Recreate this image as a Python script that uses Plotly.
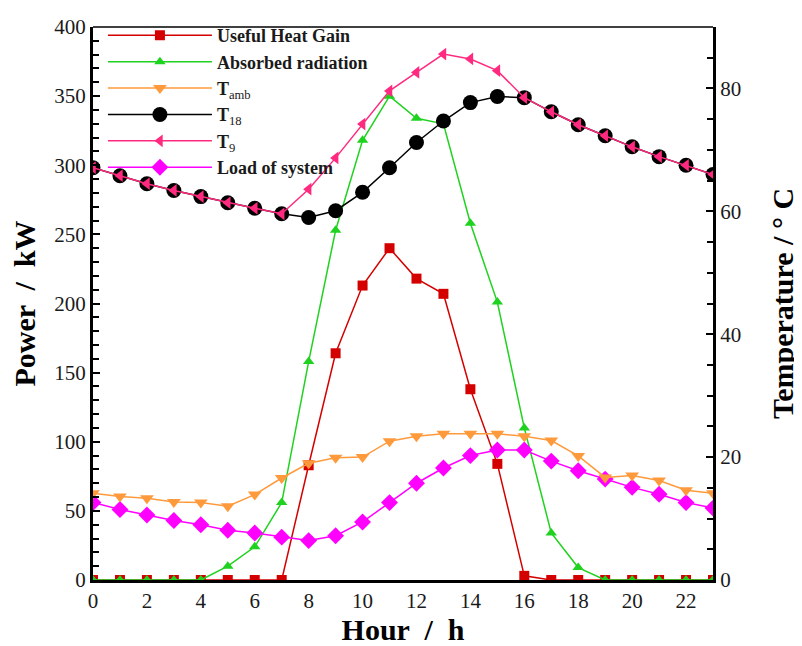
import plotly.graph_objects as go

hours = list(range(24))
useful_heat_gain = [0, 0, 0, 0, 0, 0, 0, 0, 83, 164, 213, 240, 218, 207, 138, 84, 3, 0, 0, 0, 0, 0, 0, 0]
absorbed_radiation = [0, 0, 0, 0, 0, 10, 24, 56, 158, 253, 318, 350, 334, 330, 258, 201, 110, 34, 9, 0, 0, 0, 0, 0]
t_amb = [14.1, 13.6, 13.3, 12.7, 12.6, 12.0, 13.9, 16.6, 19.0, 19.9, 20.0, 22.6, 23.4, 23.8, 23.8, 23.8, 23.4, 22.7, 20.2, 16.7, 17.0, 16.2, 14.6, 14.1]
t_18 = [67.1, 65.8, 64.5, 63.4, 62.4, 61.4, 60.5, 59.6, 59.0, 60.1, 63.1, 67.1, 71.2, 74.7, 77.7, 78.7, 78.5, 76.2, 74.1, 72.3, 70.5, 68.9, 67.5, 66.0]
t_9 = [67.1, 65.8, 64.5, 63.4, 62.4, 61.4, 60.5, 59.6, 63.6, 68.7, 74.2, 79.6, 82.6, 85.6, 84.8, 82.9, 78.5, 76.2, 74.1, 72.3, 70.5, 68.9, 67.5, 66.0]
load_of_system = [56, 51, 47, 43, 40, 36, 34, 31, 28.5, 32, 42, 56, 70, 81, 90, 94, 94, 86, 79, 73, 67, 62, 56, 52]

FONT = "Liberation Serif, Times New Roman, serif"

fig = go.Figure()

def add(name, y, color, symbol, size, axis):
    fig.add_trace(go.Scatter(
        x=hours, y=y, name=name, mode="lines+markers", yaxis=axis,
        line=dict(color=color, width=1.5),
        marker=dict(symbol=symbol, size=size, color=color),
    ))

add("<b>Useful Heat Gain</b>", useful_heat_gain, "#D40000", "square", 10, "y")
add("<b>Absorbed radiation</b>", absorbed_radiation, "#1FD21F", "triangle-up", 10, "y")
add("<b>T</b><sub>amb</sub>", t_amb, "#FF9A3C", "triangle-down", 12, "y2")
add("<b>T</b><sub>18</sub>", t_18, "#000000", "circle", 15, "y2")
add("<b>T</b><sub>9</sub>", t_9, "#FF2A7F", "triangle-left", 11, "y2")
add("<b>Load of system</b>", load_of_system, "#FF00FF", "diamond", 13, "y")

fig.update_layout(
    width=802, height=646, autosize=False,
    margin=dict(l=85, r=97, t=9, b=74),
    paper_bgcolor="white", plot_bgcolor="white",
    font=dict(family=FONT, size=21, color="#1a1a1a"),
    showlegend=True,
    legend=dict(x=0.016, y=1.018, xanchor="left", yanchor="top",
                bgcolor="rgba(0,0,0,0)", font=dict(size=18, color="#1a1a1a"),
                itemwidth=104, tracegroupgap=0),
    xaxis=dict(range=[0, 23], tick0=0, dtick=2, showgrid=False, zeroline=False,
               showline=True, linecolor="black", linewidth=3, ticks="", automargin=False,
               tickfont=dict(size=21),
               title=dict(text="<b>Hour  /  h</b>", font=dict(size=30, color="black"), standoff=6)),
    yaxis=dict(range=[0, 400], dtick=50, showgrid=False, zeroline=False, automargin=False,
               showline=True, linecolor="black", linewidth=3,
               ticks="inside", ticklen=7, tickwidth=2, tickcolor="black",
               minor=dict(dtick=10, ticks="inside", ticklen=6, tickwidth=2, tickcolor="black", showgrid=False),
               tickfont=dict(size=21),
               title=dict(text="<b>Power  /  kW</b>", font=dict(size=30, color="black"), standoff=10)),
    yaxis2=dict(range=[0, 90], dtick=20, overlaying="y", side="right", showgrid=False, zeroline=False,
                showline=True, linecolor="black", linewidth=3, automargin=False,
                ticks="inside", ticklen=7, tickwidth=2, tickcolor="black",
                minor=dict(dtick=5, ticks="inside", ticklen=6, tickwidth=2, tickcolor="black", showgrid=False),
                tickfont=dict(size=21),
                title=dict(text="<b>Temperature / ° C</b>", font=dict(size=30, color="black"), standoff=32)),
    shapes=[dict(type="line", xref="paper", yref="paper", x0=0, x1=1, y0=1, y1=1,
                 line=dict(color="black", width=1.5))],
)

fig.write_html("out.html")
